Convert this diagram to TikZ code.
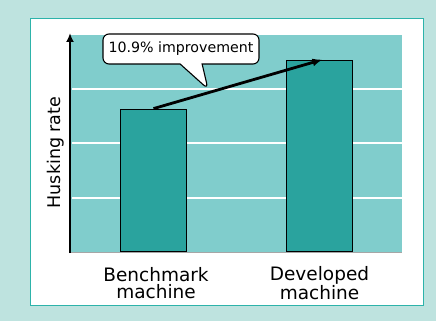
\documentclass[tikz,border=0pt]{standalone}
\usepackage{fontspec}
\setmainfont{DejaVu Sans}
\usetikzlibrary{shapes.callouts,arrows.meta}

\definecolor{outerbg}{RGB}{190,227,223}
\definecolor{panelline}{RGB}{45,179,170}
\definecolor{plotbg}{RGB}{128,205,204}
\definecolor{barfill}{RGB}{42,163,158}

\tikzset{
  bar/.style={draw=black, line width=1.4pt, fill=barfill, inner sep=0pt, anchor=south, minimum width=66pt},
  catlabel/.style={align=center, font={\fontsize{18.5}{17}\selectfont}, text=black},
  note/.style={rectangle callout, draw=black, line width=1.1pt, fill=white, rounded corners=6pt,
    minimum width=156pt, minimum height=30pt, inner sep=2pt, callout pointer width=22pt,
    font={\fontsize{14.2}{14.2}\selectfont}}
}

\begin{document}
\begin{tikzpicture}[x=1pt, y=-1pt]

\fill[outerbg] (0,0) rectangle (436,321);
\useasboundingbox (0,0) rectangle (436,321);
\draw[panelline, line width=1pt, fill=white] (30,19) rectangle (423,305);

% plot area
\fill[plotbg] (70,35) rectangle (402,252);
\draw[black!35, line width=0.6pt] (70,252) -- (402,252);
\foreach \y in {89,143,198}
\draw[white, line width=1.2pt] (72,\y) -- (402,\y);

% bars
\node[bar, minimum height=142pt] (bench) at (153.5,252) {};
\node[bar, minimum height=191pt] (devel) at (319.5,252) {};

% axis
\coordinate (orig) at (70,253);
\coordinate (ytop) at (70,33);
\draw[line width=2.8pt, -{Latex[length=9pt,width=8pt]}] (orig) -- (ytop);
\node[rotate=90, font={\fontsize{17.5}{17.5}\selectfont}] (ylab) at (55.5,152.5) {Husking rate};

\node[catlabel] (benchlbl) at (156,283) {Benchmark\\machine};
\node[catlabel] (devellbl) at (319.5,283) {Developed\\machine};

% improvement
\draw[line width=2.8pt, -{Latex[length=10pt,width=8pt]}] (bench.north) -- ([xshift=3pt]devel.north);
\coordinate (tip) at (208,89);
\node[note, callout absolute pointer={(tip)}] (gain) at (181,49) {10.9\% improvement};

\end{tikzpicture}
\end{document}
